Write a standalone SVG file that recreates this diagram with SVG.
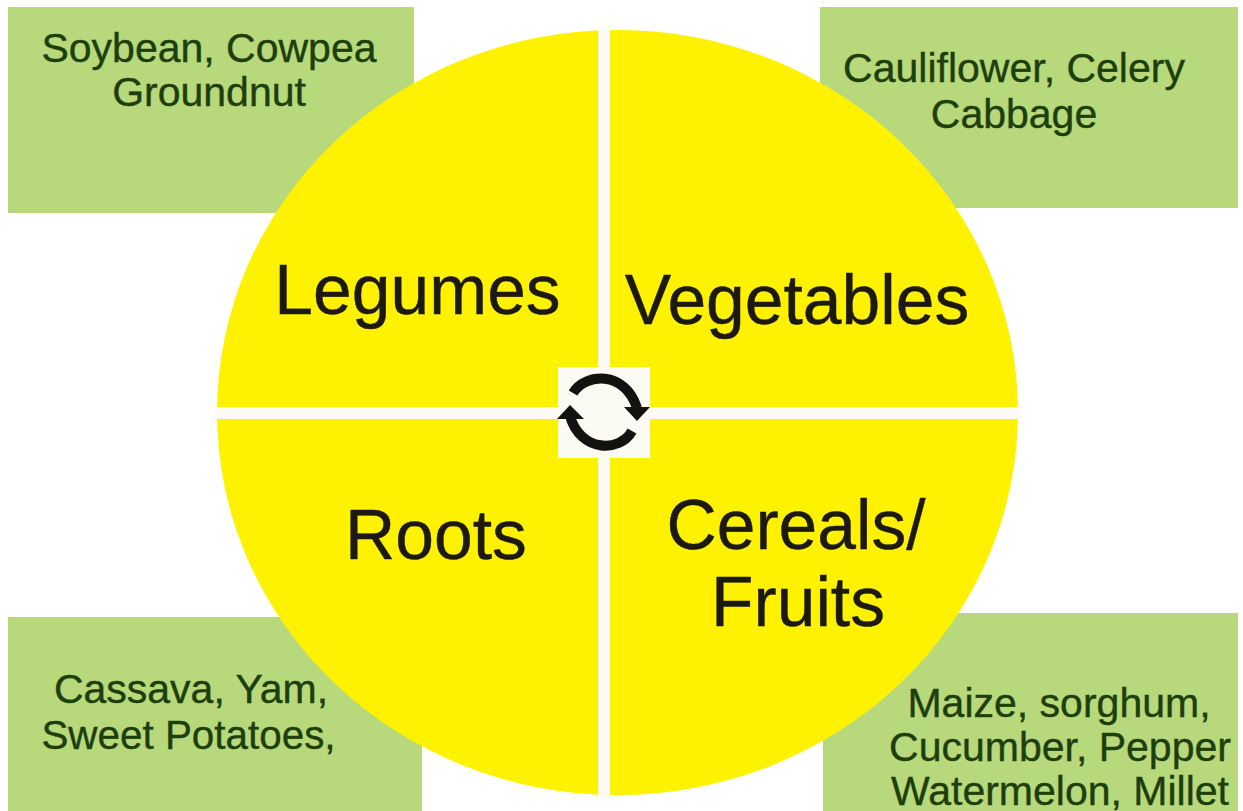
<svg xmlns="http://www.w3.org/2000/svg" width="1243" height="811" viewBox="0 0 1243 811">
<style>
.box{fill:#b8d87c}
.small{font-family:"Liberation Sans",Arial,sans-serif;font-size:41px;fill:#1d3f0c;stroke:#1d3f0c;stroke-width:.4;text-anchor:middle}
.big{font-family:"Liberation Sans",Arial,sans-serif;font-size:69.6px;fill:#1c1a10;stroke:#1c1a10;stroke-width:.4;text-anchor:middle}
.bar{fill:#fbfbf4}
.ic{fill:none;stroke:#12130f;stroke-width:10}
.ih{fill:#12130f}
</style>
<rect width="1243" height="811" fill="#ffffff"/>
<g id="box-legumes"><rect class="box" x="8" y="7" width="406" height="206"/><text class="small" x="209" y="62">Soybean, Cowpea</text><text class="small" x="209" y="106">Groundnut</text></g>
<g id="box-vegetables"><rect class="box" x="820" y="7" width="418" height="201"/><text class="small" x="1014" y="82">Cauliflower, Celery</text><text class="small" x="1014" y="128">Cabbage</text></g>
<g id="box-roots"><rect class="box" x="8" y="617" width="414" height="194"/><text class="small" x="191" y="703">Cassava, Yam,</text><text class="small" x="188.5" y="749" style="font-size:40.4px">Sweet Potatoes,</text></g>
<g id="box-cereals"><rect class="box" x="823" y="613" width="415" height="198"/><text class="small" x="1059" y="717">Maize, sorghum,</text><text class="small" x="1060" y="761">Cucumber, Pepper</text><text class="small" x="1060" y="805">Watermelon, Millet</text></g>
<g id="wheel"><ellipse cx="617.5" cy="412.5" rx="400.5" ry="382.5" fill="#fff200"/><rect class="bar" x="598" y="28" width="12" height="770"/><rect class="bar" x="215" y="407" width="805" height="12"/><rect class="bar" x="558" y="367" width="92" height="91"/></g>
<g id="label-legumes"><text class="big" x="417.500" y="314">Legumes</text></g>
<g id="label-vegetables"><text class="big" x="797" y="324">Vegetables</text></g>
<g id="label-roots"><text class="big" x="436" y="559">Roots</text></g>
<g id="label-cereals"><text class="big" x="796" y="549">Cereals/</text><text class="big" x="798" y="626">Fruits</text></g>
<g id="connectors"><path class="ic" d="M573 393C585 373 625 370 637 408"/><path class="ih" d="M624 407H650L637 421Z"/><path class="ic" d="M632 431C620 453 580 452 570 416"/><path class="ih" d="M557 419H584L570 405Z"/></g>
</svg>
